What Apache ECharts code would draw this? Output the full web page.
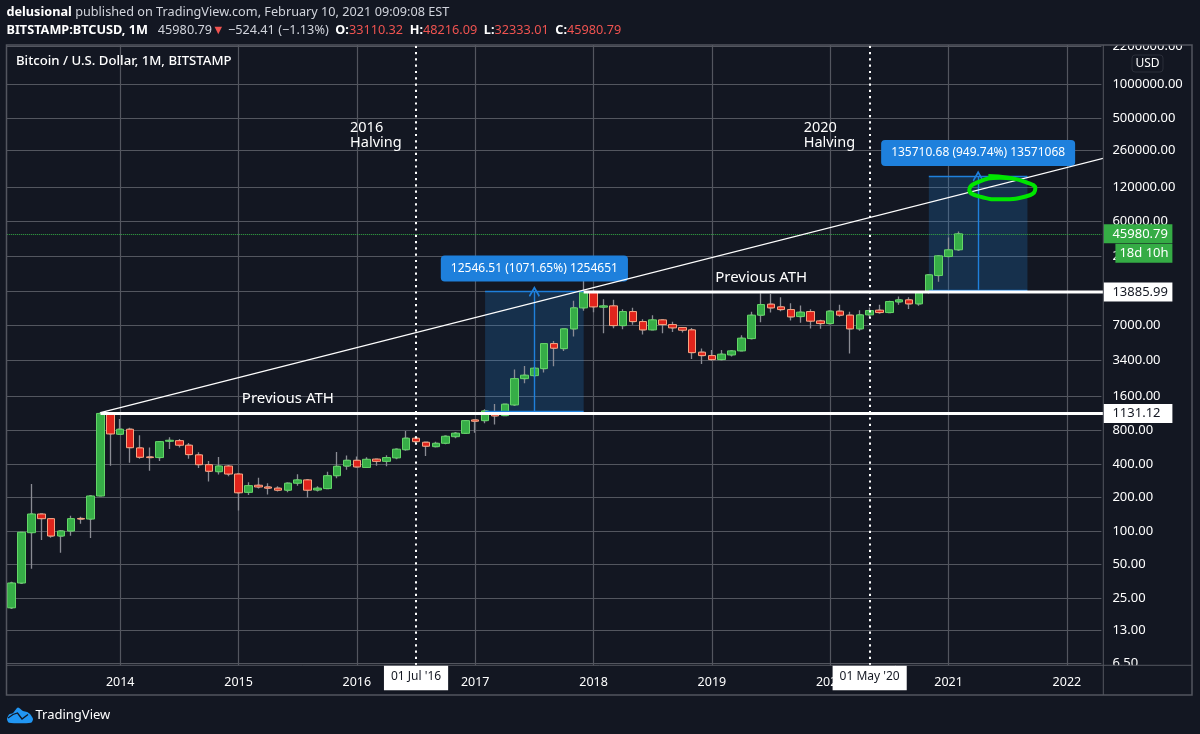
<!DOCTYPE html>
<html>
<head>
<meta charset="utf-8">
<style>html,body{margin:0;padding:0;background:#131722}#chart{width:1200px;height:734px}</style>
<script src="https://cdn.jsdelivr.net/npm/echarts@6/dist/echarts.min.js"></script>
</head>
<body>
<div id="chart"></div>
<script>
// monthly candles, Feb 2013 to Feb 2021: open, close, low, high
const candles = [
    [20.5, 34.2, 20, 35.1], [34.2, 97.4, 33.5, 98.5], [96.6, 142, 45.9, 264], [142, 129, 83, 143],
    [129, 90.2, 87.1, 131], [90.2, 100, 63.9, 102], [100, 129, 90.7, 137], [129.5, 128, 116, 134],
    [128, 206, 86.6, 210], [206, 1131, 204, 1163], [1131, 741, 385, 1150],
    [736, 816, 730, 1010], [816, 558, 409, 843], [555, 458, 444, 721], [461, 455, 347, 559],
    [455, 632, 424, 641], [637, 650, 544, 692], [645, 587, 559, 668], [587, 484, 443, 615],
    [481, 393, 367, 508], [393, 343, 277, 424], [340, 382, 320, 461], [382, 324, 309, 391],
    [324, 220, 153, 328], [222, 255, 210, 273], [257, 248, 240, 300], [248, 242, 212, 268],
    [242, 232, 226, 252], [232, 268, 222, 273], [268, 287, 255, 322], [287, 232, 200, 293],
    [233, 242, 226, 252], [240, 313, 237, 340], [313, 380, 297, 511], [382, 430, 354, 474],
    [430, 375, 369, 464], [371, 439, 369, 458], [441, 421, 385, 444], [421, 455, 380, 478],
    [452, 541, 439, 552], [535, 678, 525, 788], [678, 632, 615, 705], [624, 575, 471, 630],
    [570, 611, 561, 632], [611, 706, 599, 721], [700, 753, 678, 773], [750, 975, 745, 989],
    [989, 963, 761, 1000], [975, 1191, 924, 1233], [1150, 1074, 898, 1376], [1081, 1368, 1074, 1376],
    [1348, 2320, 1320, 2794], [2320, 2489, 2110, 3016], [2468, 2876, 2390, 2950], [2852, 4779, 2626, 4800],
    [4779, 4346, 2998, 5053], [4311, 6474, 4111, 6520], [6474, 9987, 5523, 11540], [9987, 13885, 9388, 19666],
    [13885, 10195, 9140, 14200], [10132, 10407, 5924, 11951], [10407, 6931, 6567, 11780], [6931, 9254, 6433, 9722],
    [9254, 7528, 7032, 9987], [7528, 6341, 5756, 7909], [6341, 7796, 6300, 8589], [7796, 7076, 5924, 7850],
    [7076, 6608, 6085, 7481], [6650, 6300, 5998, 6700], [6341, 3969, 3485, 6608], [4003, 3731, 3143, 4311],
    [3731, 3435, 3350, 4197], [3435, 3841, 3370, 4197], [3780, 4111, 3655, 4197], [4111, 5342, 4085, 5683],
    [5298, 8589, 5200, 9195], [8589, 10692, 7436, 13530], [10780, 9987, 9064, 13290], [10195, 9644, 9330, 12455],
    [9644, 8294, 7690, 11005], [8345, 9141, 7328, 10473], [9254, 7590, 6514, 9722], [7637, 7224, 6474, 7796],
    [7224, 9330, 7076, 9524], [9330, 8589, 8294, 10625], [8589, 6474, 3888, 9195], [6474, 8643, 6212, 9524],
    [8643, 9446, 8120, 10060], [9524, 9064, 8825, 10625], [9064, 11375, 8950, 11540], [11300, 11780, 10625, 12610],
    [11780, 10850, 9780, 12455], [10850, 13885, 10407, 14000], [13800, 19740, 13420, 20050], [19480, 29226, 17085, 29660],
    [28800, 33070, 28500, 42630], [33110.32, 45980.79, 32333.01, 48216.09],
];

const priceTicks = [6.5, 13, 25, 50, 100, 200, 400, 800, 1600, 3400, 7000, 14000, 29000, 60000, 120000, 260000, 500000, 1000000, 2200000];

// x positions below are month indexes, 0 = Feb 2013
const trendX = [9, 110.7];
const trendY = [1150, 219000];
const athLevels = [1131.12, 13885.99];
const athStart = [9, 58];
const halvingMonths = ['2016-07', '2020-05'];
const halvingTags = ["01 Jul '16", "01 May '20"];
const measureFrom = [48, 93];
const measureTo = [58, 103];
const measureMid = [53, 98];
const measureLow = [1183, 14500];
const measureHigh = [14000, 151700];
const measureText = ['12546.51 (1071.65%) 1254651', '135710.68 (949.74%) 13571068'];
const circledX = [99.04, 101.07, 102.9, 103.8, 103.3, 100.2, 98.2, 97.1, 97.7, 100.2, 101.5];
const circledY = [151700, 146500, 133200, 117700, 102500, 93800, 99000, 113700, 130500, 146500, 144000];
const lastPrice = 45980.79;

const months = [];
for (let i = 0; i < 111; i++) {
    const m = i + 1;
    const year = 2013 + Math.floor(m / 12);
    months.push(year + '-' + String(m % 12 + 1).padStart(2, '0'));
}

const FONT = '"Noto Sans", sans-serif';
const GRID = '#53565f';
const isYearStart = (i, name) => name.endsWith('-01');

const notePoint = (x, y, text, opts) => ({
    coord: [x, y],
    symbolSize: 0,
    label: Object.assign({ show: true, formatter: text, fontFamily: FONT, color: '#fff' }, opts),
});
const priceTag = (y, text, bg, color) => notePoint(110.5, y, text, {
    position: 'right', distance: 2, backgroundColor: bg, color: color,
    width: 60, lineHeight: 13, padding: [3, 0, 3, 9], align: 'left', fontSize: 13,
});

const chart = echarts.init(document.getElementById('chart'));
chart.setOption({
    animation: false,
    backgroundColor: '#131722',
    title: [
        {
            left: 6.5, top: 6, padding: 0,
            text: '{b|delusional} published on TradingView.com, February 10, 2021 09:09:08 EST',
            textStyle: {
                fontFamily: FONT, fontSize: 12.7, fontWeight: 'normal', color: '#d1d4dc',
                rich: { b: { fontFamily: FONT, fontSize: 12.7, fontWeight: 'bold', color: '#fff' } },
            },
        },
        {
            left: 6.5, top: 24, padding: 0,
            text: '{b|BITSTAMP:BTCUSD, 1M}   45980.79{r|▼} −524.41 (−1.13%)  {b|O:}{r|33110.32}  {b|H:}{r|48216.09}  {b|L:}{r|32333.01}  {b|C:}{r|45980.79}',
            textStyle: {
                fontFamily: FONT, fontSize: 12.7, fontWeight: 'normal', color: '#d1d4dc',
                rich: {
                    b: { fontFamily: FONT, fontSize: 12.7, fontWeight: 'bold', color: '#fff' },
                    r: { fontFamily: FONT, fontSize: 12.7, color: '#ef5350' },
                },
            },
        },
        {
            left: 16, top: 55, padding: 0,
            text: 'Bitcoin / U.S. Dollar, 1M, BITSTAMP',
            textStyle: { fontFamily: FONT, fontSize: 13.2, fontWeight: 500, color: '#fff' },
        },
    ],
    grid: { left: 6.8, top: 45, width: 1094.6, height: 620.3, containLabel: false },
    xAxis: [
        {
            type: 'category',
            data: months,
            axisLine: { show: false },
            axisTick: { interval: isYearStart, alignWithLabel: true, length: 4, lineStyle: { color: GRID } },
            splitLine: { show: true, interval: isYearStart, alignWithLabel: true, lineStyle: { color: GRID, width: 1.2 } },
            axisLabel: {
                interval: isYearStart, formatter: (name) => name.slice(0, 4), hideOverlap: false,
                color: '#fff', fontFamily: FONT, fontSize: 12.5, margin: 11,
            },
        },
        { type: 'value', show: false, min: -0.5, max: 110.5, splitLine: { show: false } },
    ],
    yAxis: {
        type: 'log',
        logBase: 10,
        position: 'right',
        offset: 2,
        min: 6.26,
        max: 2263800,
        axisLine: { show: false },
        axisTick: { customValues: priceTicks, length: 5, lineStyle: { color: GRID } },
        minorTick: { show: false },
        splitLine: { show: true, lineStyle: { color: GRID, width: 1.2 } },
        axisLabel: {
            customValues: priceTicks, formatter: (v) => Number(v).toFixed(2),
            color: '#fff', fontFamily: FONT, fontSize: 13, margin: 9,
        },
    },
    graphic: [
        // panel frame and mask over the clipped tick labels
        { type: 'rect', z: 50, silent: true, shape: { x: 1104, y: 18, width: 90, height: 27 }, style: { fill: '#131722' } },
        { type: 'rect', z: 50, silent: true, shape: { x: 1104, y: 665.5, width: 87, height: 29 }, style: { fill: '#131722' } },
        { type: 'rect', z: 51, silent: true, shape: { x: 6.5, y: 45, width: 1185.5, height: 650 }, style: { fill: 'none', stroke: GRID, lineWidth: 1.5 } },
        { type: 'line', z: 51, silent: true, shape: { x1: 6.5, y1: 665.3, x2: 1192, y2: 665.3 }, style: { stroke: GRID, lineWidth: 1 } },
        { type: 'line', z: 51, silent: true, shape: { x1: 1103.3, y1: 45, x2: 1103.3, y2: 695 }, style: { stroke: GRID, lineWidth: 1 } },
        {
            type: 'rect', z: 52, silent: true, shape: { x: 1132, y: 55, width: 31, height: 17, r: 3 },
            style: { fill: '#131722', stroke: '#2a2e39', lineWidth: 1 },
        },
        { type: 'text', z: 53, silent: true, x: 1147.5, y: 63.5, style: { text: 'USD', fill: '#fff', font: '12px ' + FONT, textAlign: 'center', textVerticalAlign: 'middle' } },
        // TradingView mark
        {
            type: 'polygon', z: 53, silent: true,
            shape: { smooth: 0.25, points: [[7, 719], [9, 714.5], [13, 713], [18, 707.5], [23, 711], [27, 712], [30, 714], [33, 719], [31, 722.7], [9, 722.7]] },
            style: { fill: '#2196f3' },
        },
        { type: 'polyline', z: 54, silent: true, shape: { points: [[8, 718], [13, 714.5], [17.5, 713], [22, 719], [28, 714.5]] }, style: { stroke: '#131722', lineWidth: 1.3, fill: 'none' } },
        { type: 'text', z: 53, silent: true, x: 35.5, y: 715, style: { text: 'TradingView', fill: '#fff', font: '13px ' + FONT, textVerticalAlign: 'middle' } },
    ],
    series: [
        // wicks
        {
            type: 'candlestick', name: 'wick', z: 2,
            barWidth: 3,
            data: candles,
            itemStyle: { color: '#8a8c94', color0: '#8a8c94', borderColor: '#8a8c94', borderColor0: '#8a8c94', borderWidth: 1.3 },
            markLine: {
                silent: true, symbol: 'none', animation: false,
                data: [{ yAxis: lastPrice, label: { show: false }, lineStyle: { color: '#35ac45', type: 'dotted', width: 1 } }],
            },
        },
        // bodies, their own border colour differs from the wick colour
        {
            type: 'candlestick', name: 'body', z: 3,
            barWidth: 8,
            data: candles.map((c) => [c[0], c[1], Math.min(c[0], c[1]), Math.max(c[0], c[1])]),
            itemStyle: { color: '#36ad47', color0: '#e0241c', borderColor: '#64d568', borderColor0: '#f6a583', borderWidth: 1 },
        },
        // measure boxes
        {
            type: 'line', name: 'measure', z: 4, xAxisIndex: 1, data: [], symbol: 'none',
            markArea: {
                silent: true,
                itemStyle: { color: 'rgba(33,150,243,0.2)' },
                data: measureFrom.map((x, i) => [{ coord: [x, measureHigh[i]] }, { coord: [measureTo[i], measureLow[i]] }]),
            },
            markLine: {
                silent: true, animation: false, symbol: 'none', label: { show: false },
                lineStyle: { color: '#1f80dc', type: 'solid', width: 1.4 },
                data: measureFrom.flatMap((x, i) => [
                    [{ coord: [x, measureHigh[i]] }, { coord: [measureTo[i], measureHigh[i]] }],
                    [{ coord: [x, measureLow[i]] }, { coord: [measureTo[i], measureLow[i]] }],
                    [
                        { coord: [measureMid[i], measureLow[i]], symbol: 'none' },
                        { coord: [measureMid[i], measureHigh[i]], symbol: 'path://M5 0 L10 7 L9 8 L5 2.5 L1 8 L0 7 Z', symbolSize: 11 },
                    ],
                ]),
            },
        },
        // trend line
        {
            type: 'line', name: 'trend', z: 5, xAxisIndex: 1, clip: false, symbol: 'none',
            data: trendX.map((x, i) => [x, trendY[i]]),
            lineStyle: { color: '#fff', width: 1.3 },
        },
        // previous all time highs
        ...athLevels.map((level, i) => ({
            type: 'line', name: 'ath' + i, z: 6, xAxisIndex: 1, clip: false, symbol: 'none',
            data: [[athStart[i], level], [110.7, level]],
            lineStyle: { color: '#fff', width: 3 },
        })),
        // hand drawn circle
        {
            type: 'line', name: 'circle', z: 7, xAxisIndex: 1, symbol: 'none', smooth: 0.5,
            data: circledX.map((x, i) => [x, circledY[i]]),
            lineStyle: { color: '#00e600', width: 4 },
        },
        // halving lines with their date tags
        {
            type: 'line', name: 'halving', z: 8, data: [], symbol: 'none',
            markLine: {
                silent: true, animation: false, symbol: 'none',
                lineStyle: { color: '#fff', type: [2.2, 4.1], width: 2 },
                data: halvingMonths.map((m, i) => ({
                    xAxis: m,
                    label: {
                        show: true, position: 'start', distance: 0, formatter: halvingTags[i],
                        backgroundColor: '#fff', color: '#131722', fontFamily: FONT, fontSize: 12,
                        padding: [5, 7, 8, 7],
                    },
                })),
            },
        },
        // text notes and price tags
        {
            type: 'line', name: 'notes', z: 9, xAxisIndex: 1, data: [], symbol: 'none',
            markPoint: {
                silent: true, animation: false, symbol: 'circle',
                data: [
                    notePoint(34, 353000, '2016\nHalving', { position: 'right', distance: 3, fontSize: 14.5, lineHeight: 15 }),
                    notePoint(80, 353000, '2020\nHalving', { position: 'right', distance: 3, fontSize: 14.5, lineHeight: 15 }),
                    notePoint(28, 1530, 'Previous ATH', { position: 'inside', fontSize: 15 }),
                    notePoint(76, 18450, 'Previous ATH', { position: 'inside', fontSize: 15 }),
                    ...measureText.map((t, i) => notePoint(measureMid[i], measureHigh[i], t, {
                        position: 'top', distance: 10, backgroundColor: '#1e80dc', borderRadius: 4,
                        padding: [7, 10, 7, 10], fontSize: 12,
                    })),
                    priceTag(lastPrice, '45980.79', '#35ac45', '#fff'),
                    notePoint(110.5, 30790, '18d 10h', {
                        position: 'right', distance: 14, backgroundColor: '#35ac45', color: '#fff',
                        width: 53, lineHeight: 13, padding: [3, 0, 3, 4], align: 'left', fontSize: 13,
                    }),
                    priceTag(athLevels[1], '13885.99', '#fff', '#131722'),
                    priceTag(athLevels[0], '1131.12', '#fff', '#131722'),
                ],
            },
        },
    ],
});
</script>
</body>
</html>
